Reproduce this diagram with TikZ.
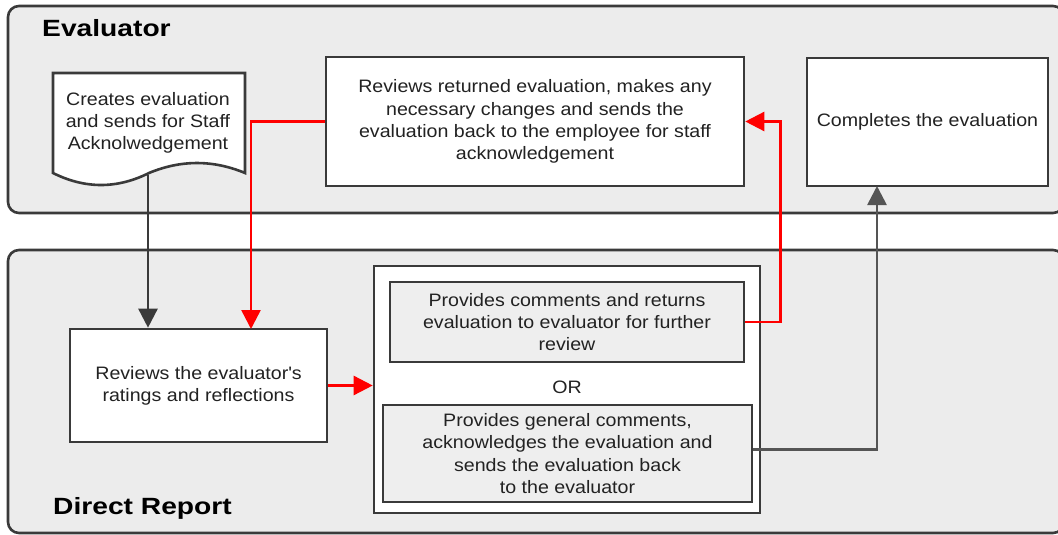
\documentclass[tikz,border=0pt]{standalone}
\usepackage{fontspec}
\setmainfont{Liberation Sans}[FakeStretch=1.09]
\newfontfamily\lanefont{Liberation Sans}[FakeStretch=1.2]
\usetikzlibrary{arrows.meta,calc}
\definecolor{lanefill}{HTML}{ECECEC}
\definecolor{edgecol}{HTML}{3A3A3A}
\definecolor{txtcol}{HTML}{222222}
\definecolor{boxgray}{HTML}{EEEEEE}
\definecolor{flowred}{HTML}{FF0000}
\definecolor{flowgray}{HTML}{555555}
\begin{document}
\begin{tikzpicture}[x=1pt,y=-1pt,
  lanebox/.style={draw=edgecol,line width=2.6pt,fill=lanefill,rounded corners=11pt},
  lanelabel/.style={anchor=base west,inner sep=0pt,text=black,font=\lanefont\bfseries\fontsize{23.5}{28}\selectfont},
  body/.style={align=center,text=txtcol,font=\fontsize{18}{22.3}\selectfont},
  procbox/.style={body,draw=edgecol,line width=2.6pt,fill=white,inner sep=0pt},
  graybox/.style={procbox,fill=boxgray},
  flowdark/.style={draw=edgecol,line width=2.5pt,-{Triangle[length=19pt,width=19pt]}},
  flowredl/.style={draw=flowred,line width=2.5pt,-{Triangle[length=19pt,width=19pt]}},
  flowgrayl/.style={draw=flowgray,line width=2.7pt,-{Triangle[length=19pt,width=19pt]}}
]
\useasboundingbox (0,0) rectangle (1058,535);
% lanes
\draw[lanebox] (8,6) rectangle (1064,213);
\draw[lanebox] (8,250) rectangle (1064,533);
\node[lanelabel] (lblEval) at (42,37) {Evaluator};
\node[lanelabel] (lblDR) at (53,514) {Direct Report};

% document shape
\draw[draw=edgecol,line width=2.6pt,fill=white]
  (53,73) -- (245,73) -- (245,173)
  .. controls (213,159.7) and (181,159.7) .. (149,173)
  .. controls (117,189) and (85,189) .. (53,173) -- cycle;
\node[body] (doc) at (148,123) {Creates evaluation\\and sends for Staff\\Acknolwedgement};
\coordinate (docb) at (148,175);

% evaluator boxes
\node[procbox,minimum width=418pt,minimum height=129pt] (rr) at (535,121.5)
  {Reviews returned evaluation, makes any\\necessary changes and sends the\\evaluation back to the employee for staff\\acknowledgement};
\node[procbox,minimum width=241pt,minimum height=128pt] (comp) at (927.5,122)
  {Completes the evaluation};

% direct report boxes
\node[procbox,minimum width=257pt,minimum height=113pt] (rev2) at (198.5,385.5)
  {Reviews the evaluator\textquotesingle s\\ratings and reflections};
\node[procbox,minimum width=386pt,minimum height=247pt] (cont) at (567,389.5) {};
\node[graybox,minimum width=354pt,minimum height=80pt] (p1) at (567,322)
  {Provides comments and returns\\evaluation to evaluator for further\\review};
\node[body] (orlbl) at (567,387) {OR};
\node[graybox,minimum width=369pt,minimum height=97pt] (p2) at (567.5,453.5)
  {Provides general comments,\\acknowledges the evaluation and\\sends the evaluation back\\to the evaluator};

% connectors
\coordinate (redin) at (251,329);
\coordinate (compin) at (877,186);
\draw[flowdark] (docb) -- (docb |- rev2.north);
\draw[flowredl] (rr.west) -| (redin);
\draw[flowredl] (rev2.east) -- (rev2.east -| cont.west);
\draw[flowredl] (p1.east) -- ++(35,0) |- (rr.east);
\draw[flowgrayl] ($(p2.east)+(0,-4)$) -| (compin);
\end{tikzpicture}
\end{document}
